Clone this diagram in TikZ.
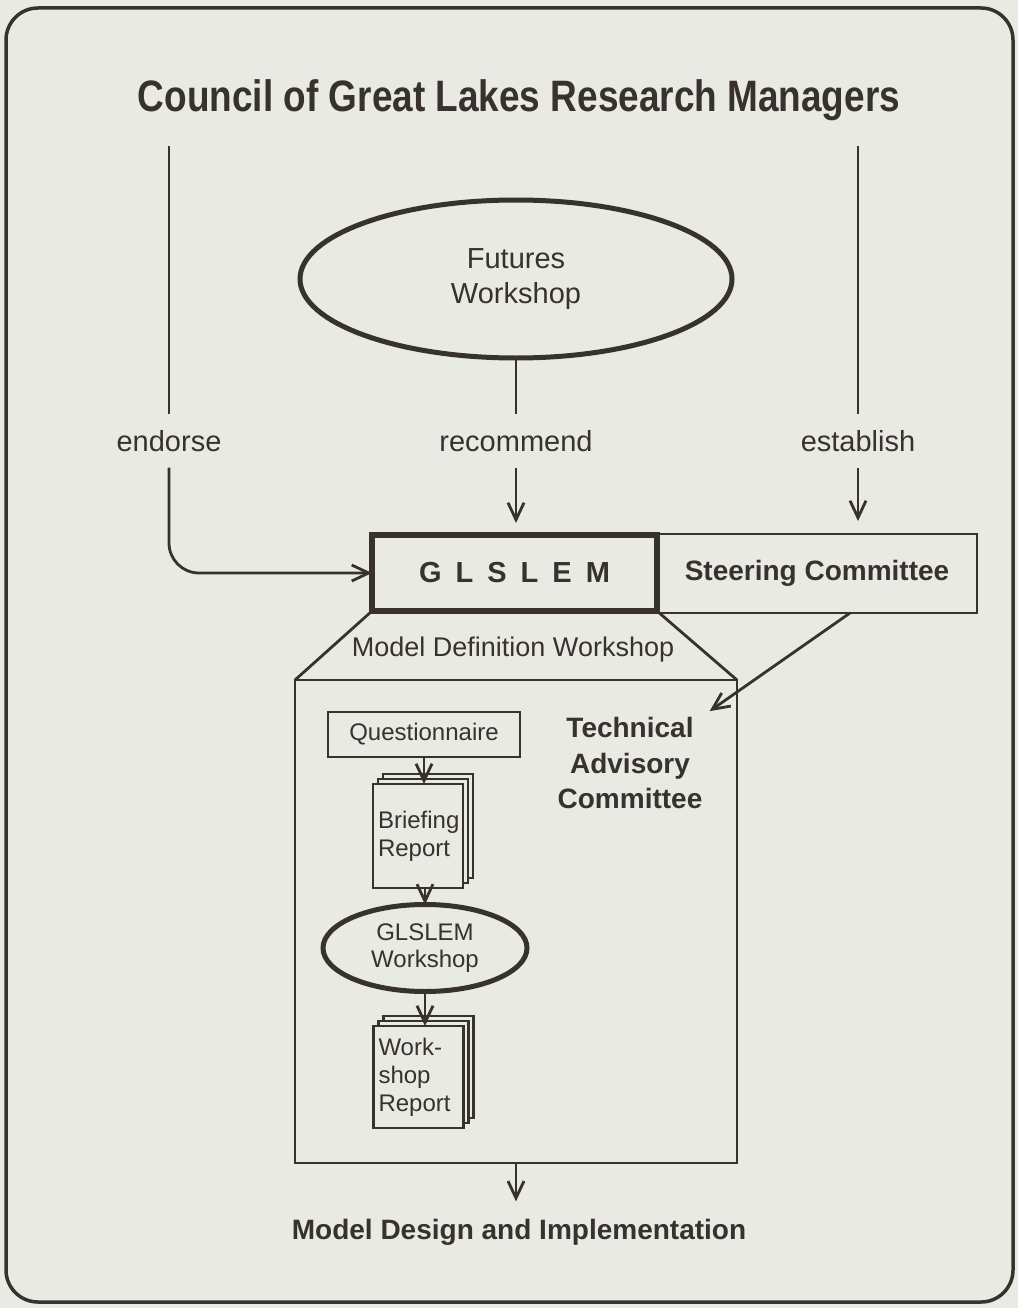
\documentclass[tikz,border=0pt]{standalone}
\usepackage{fontspec}
\setmainfont{Liberation Sans}
\newfontfamily\condfont[FakeStretch=0.84]{Liberation Sans}
\usepackage{tikz}
\usetikzlibrary{arrows.meta,positioning,shapes.geometric,shadows}

\definecolor{paper}{HTML}{E9EAE3}
\definecolor{ink}{HTML}{38322F}

\begin{document}
\begin{tikzpicture}[x=1pt, y=-1pt,
  every node/.style={text=ink},
  ln/.style={draw=ink, line width=2.8pt},
  arr/.style={ln, -{Straight Barb[length=17pt, width=16pt]}},
  box/.style={ln, fill=paper, inner sep=0pt, outer sep=0pt},
  oval/.style={ellipse, draw=ink, fill=paper, line width=5pt, align=center, inner sep=0pt, outer sep=0pt},
  page/.style={box, double copy shadow={shadow xshift=5pt, shadow yshift=5pt}, align=left, text width=80pt, inner xsep=5pt, font=\fontsize{24}{28}\selectfont},
  head/.style={font=\condfont\bfseries\fontsize{44}{50}\selectfont, inner ysep=25pt},
  lab/.style={font=\fontsize{29}{35}\selectfont, text height=21pt, text depth=0pt, inner ysep=16pt},
  txt/.style={font=\fontsize{24}{27}\selectfont},
  strong/.style={font=\bfseries\fontsize{28}{35.5}\selectfont}
]
\fill[paper] (0,0) rectangle (1018,1308);
\draw[ink, line width=3.5pt, rounded corners=32pt] (6,8) rectangle (1013,1302);
\useasboundingbox (0,0) rectangle (1018,1308);

\node[head] (council) at (519,100) {Council of Great Lakes Research Managers};
\node[oval, minimum width=432pt, minimum height=158pt, font=\fontsize{29}{35}\selectfont] (futures) at (516,279) {Futures\\Workshop};

\node[lab] (endorse) at (169,441) {endorse};
\node[lab] (recommend) at (516,441) {recommend};
\node[lab] (establish) at (858,441) {establish};

\node[box, strong, minimum width=320pt, minimum height=79pt] (steer) at (817,573.5) {Steering Committee};
\node[box, strong, line width=6pt, minimum width=285pt, minimum height=76pt, font=\bfseries\fontsize{29}{35}\selectfont] (glslem) at (514.5,573) {G\kern14pt L\kern14pt S\kern14pt L\kern14pt E\kern14pt M};

\node[box, minimum width=442pt, minimum height=483pt] (mdw) at (516,921.5) {};
\node[font=\fontsize{27}{32}\selectfont] (mdwlab) at (513,650) {Model Definition Workshop};
\node[strong, align=center, inner sep=3pt] (tac) at (630,763) {Technical\\Advisory\\Committee};

\node[box, txt, minimum width=192pt, minimum height=45pt] (quest) at (424,734.5) {Questionnaire};
\node[page, minimum height=104pt] (brief) at (418,836) {Briefing\\Report};
\node[oval, txt, align=center, minimum width=204pt, minimum height=87pt] (gws) at (425,948) {GLSLEM\\Workshop};
\node[page, minimum height=102pt] (wrep) at (418.5,1077) {Work-\\shop\\Report};

\node[strong] (mdi) at (519,1232) {Model Design and Implementation};

\draw[ln] (council.south -| endorse.north) -- (endorse.north);
\draw[ln] (council.south -| establish.north) -- (establish.north);
\draw[ln] (futures.south) -- (recommend.north);
\draw[arr, rounded corners=30pt] (endorse.south) |- (glslem.west);
\draw[arr, shorten >=12pt] (recommend.south) -- (recommend.south |- glslem.north);
\draw[arr, shorten >=13pt] (establish.south) -- (establish.south |- steer.north);

\draw[ln] (glslem.south west) -- (mdw.north west);
\draw[ln] (glslem.south east) -- (mdw.north east);
\draw[arr, shorten >=5pt] ([xshift=33pt]steer.south) -- (tac.north east);

\draw[arr] (quest.south) -- (quest.south |- brief.north);
\draw[arr] (gws.north |- brief.south) -- (gws.north);
\draw[arr] (gws.south) -- (gws.south |- wrep.north);
\draw[arr, shorten >=14pt] (mdw.south) -- (mdw.south |- mdi.north);
\end{tikzpicture}
\end{document}
